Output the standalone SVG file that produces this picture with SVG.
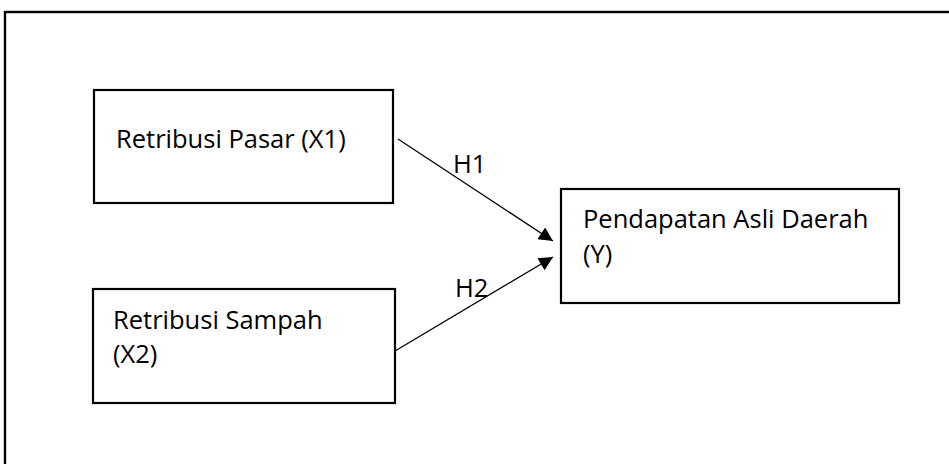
<svg xmlns="http://www.w3.org/2000/svg" width="949" height="464" viewBox="0 0 949 464">
  <style>
    .box { fill: #fff; stroke: #000; stroke-width: 2.2; }
    .lbl { font-family: "Open Sans", "Liberation Sans", sans-serif; font-size: 25.5px; fill: #000; }
    .edge { stroke: #000; stroke-width: 1.3; fill: none; }
  </style>
  <defs>
    <marker id="arrow" viewBox="0 0 10 10" refX="10" refY="5" markerWidth="15" markerHeight="14" markerUnits="userSpaceOnUse" orient="auto">
      <path d="M0,0 L10,5 L0,10 z" fill="#000"/>
    </marker>
  </defs>
  <rect width="949" height="464" fill="#fff"/>
  <!-- outer frame, running past the right and bottom edges -->
  <rect x="5" y="12" width="960" height="470" fill="none" stroke="#000" stroke-width="2.4"/>

  <g id="x1">
    <rect class="box" x="94" y="90" width="299" height="113"/>
    <text class="lbl" x="116" y="148">Retribusi Pasar (X1)</text>
  </g>
  <g id="x2">
    <rect class="box" x="93" y="289" width="302" height="114"/>
    <text class="lbl" x="113" y="329">Retribusi Sampah</text>
    <text class="lbl" x="113" y="363">(X2)</text>
  </g>
  <g id="y">
    <rect class="box" x="561" y="189" width="338" height="114"/>
    <text class="lbl" x="583" y="228">Pendapatan Asli Daerah</text>
    <text class="lbl" x="583" y="263">(Y)</text>
  </g>

  <g id="connectors">
    <line class="edge" x1="398" y1="139" x2="553" y2="241" marker-end="url(#arrow)"/>
    <line class="edge" x1="395" y1="351" x2="553" y2="257" marker-end="url(#arrow)"/>
    <text class="lbl" x="453" y="173">H1</text>
    <text class="lbl" x="455" y="297">H2</text>
  </g>
</svg>
